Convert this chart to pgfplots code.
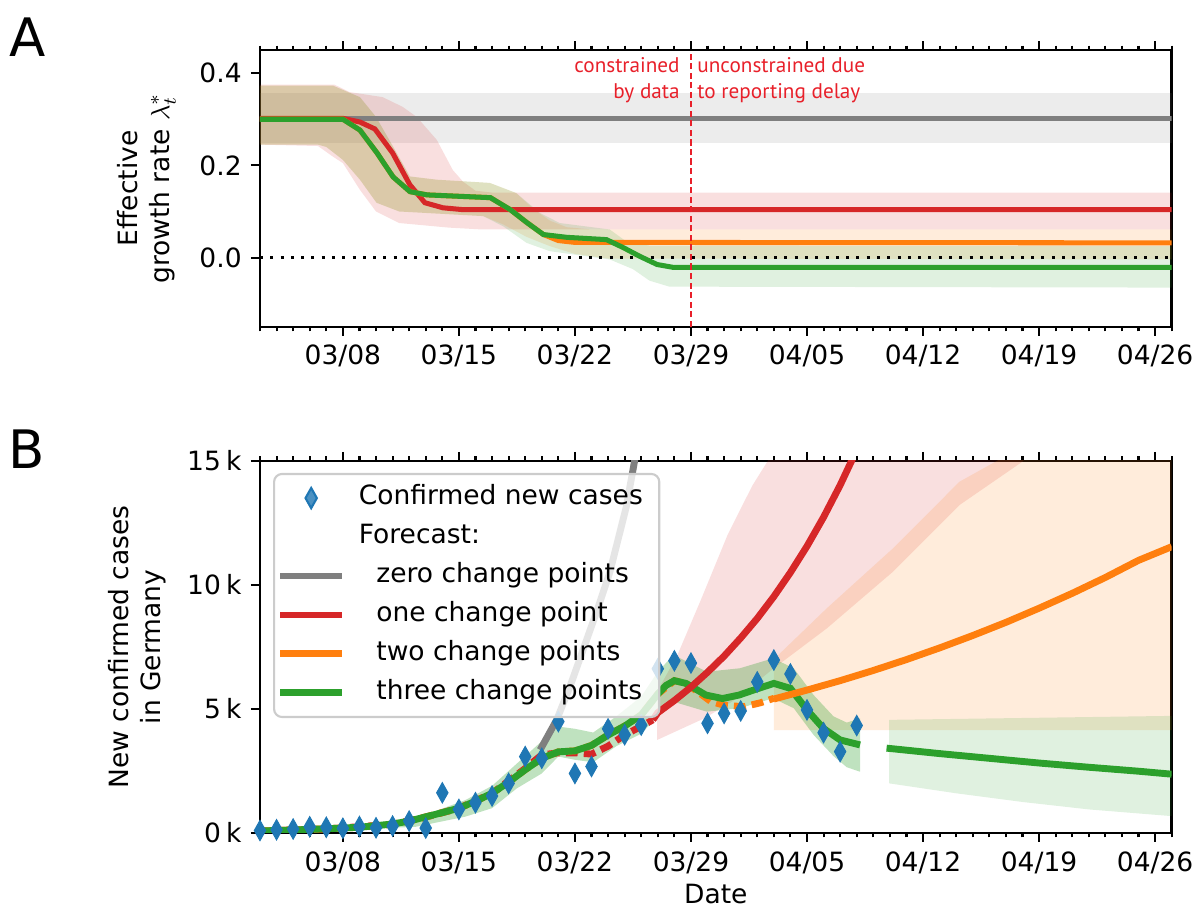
\documentclass[border=0pt]{standalone}
\usepackage{fontspec}
\setmainfont{DejaVu Sans}
\newfontfamily\annfont{PT Sans}
\usepackage{pgfplots}
\pgfplotsset{compat=1.18}
\definecolor{tabblue}{HTML}{1F77B4}
\definecolor{tabred}{HTML}{D62728}
\definecolor{taborange}{HTML}{FF7F0E}
\definecolor{tabgreen}{HTML}{2CA02C}
\definecolor{tabgray}{HTML}{7F7F7F}
\definecolor{annred}{HTML}{E8202A}
\definecolor{legframe}{HTML}{CCCCCC}

\pgfplotsset{
  myaxis/.style={
    scale only axis, width=344pt,
    xmin=2, xmax=57,
    xtick={7,14,...,56},
    xticklabels={03/08,03/15,03/22,03/29,04/05,04/12,04/19,04/26},
    minor xtick={2,...,57},
    tick align=outside,
    xtick pos=both, xticklabel pos=lower,
    ytick pos=left,
    major tick length=3.4pt, minor tick length=1.7pt,
    tick style={black, line width=0.8pt},
    axis line style={line width=0.9pt},
    tick label style={font=\fontsize{10}{12}\selectfont},
    label style={font=\fontsize{10}{12}\selectfont},
    scaled y ticks=false,
  },
  lineleg/.style={legend image code/.code={\draw[##1] (0pt,0pt) -- (23.4pt,0pt);}},
  diamondleg/.style={legend image code/.code={\draw[mark repeat=2,mark phase=2,##1] plot coordinates {(0pt,0pt)(11.7pt,0pt)(23.4pt,0pt)};}},
}

\begin{document}
\begin{tikzpicture}
% ---------------- Panel A ----------------
\begin{axis}[myaxis, at={(98.1pt,-123.3pt)}, anchor=south west, height=104.4pt,
  ymin=-0.15, ymax=0.45, ytick={0,0.2,0.4}, yticklabels={0.0,0.2,0.4},
  ylabel={Effective\\growth rate $\lambda_t^*$},
  ylabel style={align=center, at={(axis description cs:-0.082,0.5)}, anchor=south}]
% bands
\addplot[draw=none, fill=tabgray, fill opacity=0.15] coordinates {(2,0.358)(57,0.358)(57,0.248)(2,0.248)};
\addplot[draw=none, fill=tabred, fill opacity=0.15] coordinates {
(2,0.375)(6.5,0.375)(7.4,0.359)(9.4,0.348)(10.6,0.327)(11.46,0.305)(12.67,0.255)(13.63,0.19)(14.24,0.165)(15,0.145)(16,0.141)(57,0.141)
(57,0.061)(15.4,0.061)(13.4,0.065)(10.4,0.075)(9.0,0.1)(8.03,0.147)(7,0.205)(6.4,0.219)(5.5,0.242)(2,0.245)};
\addplot[draw=none, fill=taborange, fill opacity=0.15] coordinates {
(2,0.373)(6.4,0.373)(8.03,0.348)(9.0,0.305)(10.04,0.24)(11.04,0.176)(12.65,0.169)(15.86,0.162)(17.46,0.14)(18.5,0.105)(19.5,0.08)(20.5,0.066)(22,0.061)(57,0.061)
(57,-0.004)(23,-0.002)(21,0.008)(19.48,0.025)(18.08,0.045)(16.67,0.072)(15.46,0.09)(10.4,0.1)(9.03,0.119)(8.03,0.169)(7.0,0.212)(6.0,0.24)(5.5,0.245)(2,0.245)};
\addplot[draw=none, fill=tabgreen, fill opacity=0.15] coordinates {
(2,0.373)(6.4,0.373)(8.03,0.348)(9.0,0.305)(10.04,0.24)(11.04,0.176)(12.65,0.169)(15.86,0.162)(17.46,0.14)(18.88,0.097)(20.08,0.075)(23.1,0.061)(24.1,0.035)(25.5,0.026)(57,0.025)
(57,-0.065)(26.7,-0.063)(25.5,-0.05)(24.5,-0.025)(23.1,-0.004)(19.48,0.014)(18.08,0.032)(16.67,0.068)(15.46,0.09)(10.4,0.1)(9.03,0.119)(8.03,0.169)(7.0,0.212)(6.0,0.24)(5.5,0.245)(2,0.245)};
% zero line
\addplot[black, line width=1.13pt, dash pattern=on 1.13pt off 2.75pt] coordinates {(2,0)(57,0)};
% lines
\addplot[tabgray, line width=1.9pt] coordinates {(2,0.302)(57,0.302)};
\addplot[tabred, line width=1.9pt] coordinates {(2,0.302)(7.0,0.302)(8.03,0.294)(8.93,0.279)(10.0,0.227)(11.04,0.158)(11.95,0.119)(13.04,0.108)(14.24,0.104)(57,0.104)};
\addplot[taborange, line width=1.9pt] coordinates {(2,0.300)(7,0.300)(8.03,0.2765)(9.06,0.227)(10.03,0.175)(11.05,0.143)(12.08,0.136)(15.9,0.13)(17.1,0.104)(18.1,0.076)(19.1,0.05)(20.0,0.037)(21,0.033)(57,0.032)};
\addplot[tabgreen, line width=1.9pt] coordinates {(2,0.300)(7,0.300)(8.03,0.2765)(9.06,0.227)(10.03,0.175)(11.05,0.143)(12.08,0.136)(15.9,0.13)(17.1,0.104)(18.1,0.076)(19.1,0.05)(20.5,0.044)(22.9,0.039)(23.9,0.022)(24.9,0.003)(25.96,-0.015)(26.9,-0.021)(57,-0.021)};
% reporting delay line
\addplot[annred, line width=0.75pt, dash pattern=on 2.3pt off 1.3pt] coordinates {(28,-0.15)(28,0.45)};
\node[anchor=base east, inner sep=0, text=annred, font=\annfont\fontsize{8}{10}\selectfont] at (axis cs:27.35,0.402) {constrained};
\node[anchor=base east, inner sep=0, text=annred, font=\annfont\fontsize{8}{10}\selectfont] at (axis cs:27.35,0.346) {by data};
\node[anchor=base west, inner sep=0, text=annred, font=\annfont\fontsize{8}{10}\selectfont] at (axis cs:28.36,0.402) {unconstrained due};
\node[anchor=base west, inner sep=0, text=annred, font=\annfont\fontsize{8}{10}\selectfont] at (axis cs:28.36,0.346) {to reporting delay};
\end{axis}

% ---------------- Panel B ----------------
\begin{axis}[myaxis, at={(98.1pt,-314.3pt)}, anchor=south west, height=140.4pt,
  ymin=0, ymax=15000, ytick={0,5000,10000,15000},
  yticklabels={0\hspace{0.2em}k,5\hspace{0.2em}k,10\hspace{0.2em}k,15\hspace{0.2em}k},
  ylabel={New confirmed cases\\in Germany},
  ylabel style={align=center, at={(axis description cs:-0.093,0.5)}, anchor=south},
  xlabel={Date},
  xlabel style={at={(axis description cs:0.5,0)}, anchor=base, yshift=-26.6pt},
  lineleg,
  legend cell align=left,
  legend style={at={(axis description cs:0.0143,0.9677)}, anchor=north west,
    draw=legframe, line width=0.8pt, rounded corners=3pt,
    fill=white, fill opacity=0.8, text opacity=1, draw opacity=1,
    font=\fontsize{10}{12}\selectfont,
    inner xsep=1pt, inner ysep=3.1pt, row sep=2.7pt, column sep=4pt,
    nodes={inner sep=1pt, text height=7.5pt, text depth=2.5pt}},
]
% bands
\addplot[forget plot, draw=none, fill=tabred, fill opacity=0.15] coordinates {
(25.96,5700)(27.2,7200)(28.6,9400)(30.2,12000)(31.7,14000)(33.2,15600)(35,18000)(52,18000)
(52,18000)(50,16500)(48,14970)(44.2,13220)(40.2,10540)(36.2,8250)(33,6640)(30.5,5300)(28.8,4620)(25.96,3750)};
\addplot[forget plot, draw=none, fill=taborange, fill opacity=0.15] coordinates {
(33,7000)(36.2,9060)(40.2,11480)(44.2,14160)(47,15200)(50,17500)(57,19000)(57,4150)(33,4150)};
\addplot[forget plot, draw=none, fill=tabgreen, fill opacity=0.3] coordinates {
(2,150)(6,250)(9,420)(11.4,590)(14.4,1330)(16,1900)(17.5,2800)(19,3700)(20,4290)(21,4200)(22.1,4050)(23.5,4700)(25,5500)(26,6500)(26.95,7180)(28.95,6500)(30.95,6640)(32.95,7040)(34.2,6640)(35.4,5560)(36.6,4700)(37.4,4450)(38.2,4620)
(38.2,2470)(37.4,2650)(36.6,3100)(35.4,3950)(34.2,5030)(32.95,5430)(30.95,5030)(28.95,4890)(26.95,5290)(26,4700)(25,4000)(23.5,3500)(22.1,2850)(21,2950)(20,3080)(19,2400)(17.5,1800)(16,1000)(14.4,660)(11.4,250)(9,180)(6,100)(2,30)};
\addplot[forget plot, draw=none, fill=tabgreen, fill opacity=0.15] coordinates {
(39.96,4560)(57,4720)(57,680)(52,950)(48,1250)(44,1600)(39.96,2000)};
% fits (dashed)
\addplot[forget plot, tabred, line width=2.6pt, dash pattern=on 4.5pt off 2.3pt] coordinates {
(2,80)(6,160)(10,350)(12,640)(14,1000)(16,1600)(18,2600)(19,3150)(20,3230)(21,3230)(22,3180)(23,3500)(24,3950)(25,4300)(25.7,4560)};
\addplot[forget plot, taborange, line width=2.6pt, dash pattern=on 4.5pt off 2.3pt] coordinates {
(2,80)(4,120)(6,170)(8,230)(10,360)(11,480)(12,650)(13,820)(14,1000)(15,1280)(16,1600)(17,2050)(18,2550)(19,3010)(20,3270)(21,3310)(22,3530)(23,3950)(24,4310)(25,4760)(26,5600)(27,6140)(27.7,6030)(28.5,5650)(29.2,5300)(30,5150)(31.2,5090)(32.2,5250)(33,5430)};
\addplot[forget plot, tabgreen, line width=2.6pt] coordinates {
(2,80)(4,120)(6,170)(8,230)(10,360)(11,480)(12,650)(13,820)(14,1000)(15,1280)(16,1600)(17,2050)(18,2550)(19,3010)(20,3270)(21,3310)(22,3530)(23,3950)(24,4310)(25,4760)(26,5600)(26.5,5950)(27,6140)(27.7,6030)(28.9,5560)(29.9,5420)(30.9,5560)(31.9,5790)(33,6030)(34,5830)(35,4960)(36,4210)(37,3750)(38.2,3550)};
% forecasts
\addplot[forget plot, tabgray, line width=2.6pt] coordinates {
(18.9,3350)(19.9,4560)(20.7,5900)(21.5,7400)(22.3,8900)(23.1,10500)(24.1,13150)(24.6,15000)(25,16600)};
\addplot[forget plot, tabred, line width=2.6pt] coordinates {
(25.7,4560)(26,4850)(27,5340)(28,5880)(29,6480)(30,7130)(31,7860)(32,8650)(33,9530)(34,10500)(35,11560)(36,12730)(37,14020)(38,15440)(39,17000)};
\addplot[forget plot, taborange, line width=2.6pt] coordinates {
(33,5400)(35,5760)(37,6140)(39,6550)(41,6990)(43,7460)(45,7960)(47,8490)(49,9060)(51,9660)(53,10300)(55,10990)(57,11540)};
\addplot[forget plot, tabgreen, line width=2.6pt] coordinates {
(39.8,3420)(43,3200)(46,3010)(49,2820)(52,2650)(55,2490)(57,2370)};
% data
\addplot[forget plot, only marks, mark=diamond*, mark size=3.8pt, mark options={xscale=0.75, fill=tabblue, draw=tabblue}] coordinates {
(2,100)(3,130)(4,160)(5,250)(6,230)(7,190)(8,260)(9,210)(10,280)(11,480)(12,200)(13,1620)(14,950)(15,1220)(16,1490)(17,2000)(18,3080)(19,3010)(20,4490)(21,2400)(22,2680)(23,4200)(24,3960)(25,4350)(26,6620)(27,6940)(28,6850)(29,4420)(30,4820)(31,4920)(32,6090)(33,6970)(34,6410)(35,4960)(36,4045)(37,3280)(38,4330)};
% legend
\addlegendimage{only marks, mark=diamond*, mark size=3.8pt, mark options={xscale=0.75, fill=tabblue, draw=tabblue}, diamondleg}
\addlegendentry{Confirmed new cases\hspace*{4.2pt}}
\addlegendimage{empty legend}
\addlegendentry{Forecast:}
\addlegendimage{tabgray, line width=2.6pt}
\addlegendentry{\hspace*{6.6pt}zero change points}
\addlegendimage{tabred, line width=2.6pt}
\addlegendentry{\hspace*{6.6pt}one change point}
\addlegendimage{taborange, line width=2.6pt}
\addlegendentry{\hspace*{6.6pt}two change points}
\addlegendimage{tabgreen, line width=2.6pt}
\addlegendentry{\hspace*{6.6pt}three change points}
\end{axis}

\node[anchor=base west, inner sep=0, font=\fontsize{20}{24}\selectfont] at (3.5pt,-21.5pt) {A};
\node[anchor=base west, inner sep=0, font=\fontsize{20}{24}\selectfont] at (3.1pt,-176.7pt) {B};

\pgfresetboundingbox
\path[use as bounding box] (0pt,0pt) rectangle (450.9pt,-342.6pt);
\end{tikzpicture}
\end{document}
